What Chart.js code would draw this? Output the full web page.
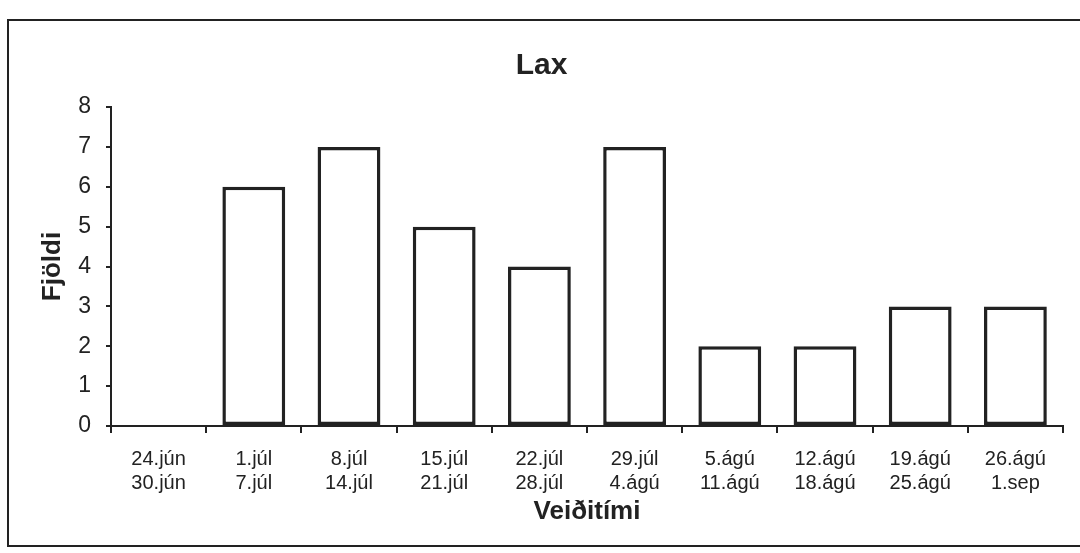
<!DOCTYPE html>
<html>
<head>
<meta charset="utf-8">
<title>Lax</title>
<script src="https://cdn.jsdelivr.net/npm/chart.js"></script>
<style>
  html, body { margin: 0; padding: 0; background: #fff; }
  #wrap { width: 1080px; height: 553px; position: relative; }
</style>
</head>
<body>
<div id="wrap"><canvas id="lax" width="1080" height="553"></canvas></div>
<script>
// week ranges (fishing period) and catch count per week
const weekStart = ['24.jún', '1.júl', '8.júl', '15.júl', '22.júl', '29.júl', '5.ágú', '12.ágú', '19.ágú', '26.ágú'];
const weekEnd   = ['30.jún', '7.júl', '14.júl', '21.júl', '28.júl', '4.ágú', '11.ágú', '18.ágú', '25.ágú', '1.sep'];
const laxCount  = [0, 6, 7, 5, 4, 7, 2, 2, 3, 3];

const INK = '#222';
const FONT = "'Liberation Sans', Arial, Helvetica, sans-serif";

// outer frame round the whole chart
const framePlugin = {
  id: 'frame',
  afterDraw(chart) {
    const ctx = chart.ctx;
    ctx.save();
    ctx.strokeStyle = INK;
    ctx.lineWidth = 2;
    ctx.strokeRect(8, 20, 1076, 526);
    ctx.restore();
  }
};

const labels = weekStart.map((s, i) => [s, weekEnd[i]]);

new Chart(document.getElementById('lax').getContext('2d'), {
  type: 'bar',
  data: {
    labels,
    datasets: [{
      label: 'Lax',
      data: laxCount,
      backgroundColor: '#fff',
      borderColor: INK,
      borderWidth: 3.5,
      borderSkipped: false,
      barPercentage: 0.66,
      categoryPercentage: 1
    }]
  },
  options: {
    responsive: false,
    animation: false,
    layout: { padding: { top: 24, left: 20, right: 17, bottom: 26 } },
    plugins: {
      legend: { display: false },
      tooltip: { enabled: false },
      title: {
        display: true,
        text: 'Lax',
        color: INK,
        font: { family: FONT, size: 30, weight: 'bold', lineHeight: 1.2 },
        padding: { top: 24, bottom: 23 }
      }
    },
    scales: {
      x: {
        offset: true,
        afterFit: s => { s.height = 101; },
        grid: { display: true, drawOnChartArea: false, drawTicks: true, tickLength: 7, color: INK, lineWidth: 2, offset: true },
        border: { display: true, color: INK, width: 2 },
        ticks: {
          color: INK,
          padding: 14,
          maxRotation: 0,
          autoSkip: false,
          font: { family: FONT, size: 20, lineHeight: 1.2 }
        },
        title: {
          display: true,
          text: 'Veiðitími',
          color: INK,
          font: { family: FONT, size: 26, weight: 'bold', lineHeight: 1.2 },
          padding: { top: 0, bottom: 0 }
        }
      },
      y: {
        min: 0,
        max: 8,
        afterFit: s => { s.width = 91; },
        grid: { display: true, drawOnChartArea: false, drawTicks: true, tickLength: 5, color: INK, lineWidth: 2 },
        border: { display: true, color: INK, width: 2 },
        ticks: {
          stepSize: 1,
          color: INK,
          padding: 15,
          font: { family: FONT, size: 23 }
        },
        title: {
          display: true,
          text: 'Fjöldi',
          color: INK,
          font: { family: FONT, size: 26, weight: 'bold', lineHeight: 1.2 },
          padding: { top: 17, bottom: 0 }
        }
      }
    }
  },
  plugins: [framePlugin]
});
</script>
</body>
</html>
